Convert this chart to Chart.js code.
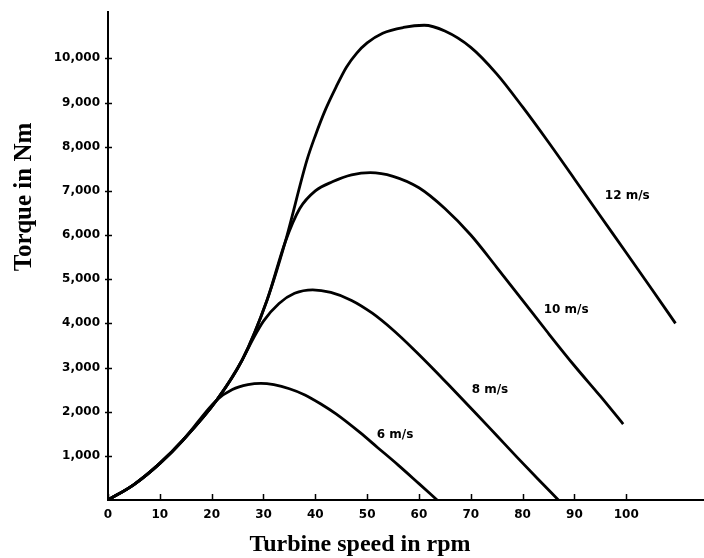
<!DOCTYPE html>
<html>
<head>
<meta charset="utf-8">
<title>Torque vs turbine speed</title>
<script src="https://cdn.jsdelivr.net/npm/chart.js@4.4.1/dist/chart.umd.min.js"></script>
<style>
  html, body { margin: 0; padding: 0; background: #fff; }
  #wrap { width: 704px; height: 558px; }
</style>
</head>
<body>
<div id="wrap"><canvas id="torqueChart" width="704" height="558"></canvas></div>
<script>
// Turbine speed (rpm) and torque (Nm), one pair per wind speed
const rpm6 = [0, 5, 10, 14.5, 21, 24, 27, 29.5, 32, 35, 38, 41, 44, 48.6, 52, 56, 60, 63.5];
const torque6 = [0, 350, 830, 1360, 2265, 2500, 2610, 2640, 2610, 2520, 2380, 2180, 1950, 1530, 1190, 790, 370, 0];

const rpm8 = [0, 5, 10, 14.5, 21, 25.9, 28, 30, 33, 36, 39.5, 43, 47, 51, 55, 59, 63, 67, 71, 75, 79, 83, 86.9];
const torque8 = [0, 350, 830, 1360, 2265, 3171, 3650, 4050, 4450, 4680, 4760, 4700, 4520, 4230, 3850, 3410, 2940, 2450, 1960, 1460, 960, 470, 0];

const rpm10 = [0, 5, 10, 14.5, 21, 25.9, 30.7, 34.2, 37, 40, 43.4, 47, 50.6, 55, 60, 65, 70, 75, 80, 85, 90, 95, 99.4];
const torque10 = [0, 350, 830, 1360, 2265, 3171, 4530, 5844, 6600, 7000, 7210, 7360, 7413, 7330, 7070, 6600, 6000, 5270, 4520, 3770, 3040, 2350, 1720];

const rpm12 = [0, 5, 10, 14.5, 21, 25.9, 30.7, 34.2, 38.4, 40, 42, 44, 46, 48, 50, 53, 57, 61, 65, 70, 75, 80, 85, 90, 95, 100, 105, 109.5];
const torque12 = [0, 350, 830, 1360, 2265, 3171, 4530, 5844, 7701, 8250, 8850, 9350, 9800, 10120, 10350, 10570, 10700, 10750, 10620, 10250, 9650, 8900, 8100, 7270, 6430, 5600, 4760, 4000];

const seriesNames = ['6 m/s', '8 m/s', '10 m/s', '12 m/s'];
const xTickValues = [0, 10, 20, 30, 40, 50, 60, 70, 80, 90, 100];
const yTickValues = [1000, 2000, 3000, 4000, 5000, 6000, 7000, 8000, 9000, 10000];

function toPoints(xs, ys) {
    return xs.map((x, i) => ({ x: x, y: ys[i] }));
}

const tickFont = { family: '"DejaVu Sans"', size: 12, weight: 'bold' };

// tick marks, curve labels and axis titles drawn over the chart
const decorations = {
    id: 'decorations',
    afterDraw(chart) {
        const { ctx, chartArea } = chart;
        const x = chart.scales.x;
        const y = chart.scales.y;
        ctx.save();
        ctx.strokeStyle = '#000';
        ctx.lineWidth = 1.5;
        ctx.beginPath();
        yTickValues.forEach(v => {
            const py = Math.round(y.getPixelForValue(v)) + 0.5;
            ctx.moveTo(chartArea.left - 3, py);
            ctx.lineTo(chartArea.left + 4, py);
        });
        xTickValues.forEach(v => {
            const px = Math.round(x.getPixelForValue(v)) + 0.5;
            ctx.moveTo(px, chartArea.bottom);
            ctx.lineTo(px, chartArea.bottom - 6);
        });
        ctx.stroke();

        // labels next to each curve (data coordinates)
        const labelAnchors = [[55.4, 1472], [73.7, 2492], [88.4, 4303], [100.2, 6880]];
        ctx.fillStyle = '#000';
        ctx.font = 'bold 12px "DejaVu Sans"';
        ctx.textAlign = 'center';
        ctx.textBaseline = 'middle';
        seriesNames.forEach((name, i) => {
            ctx.fillText(name, x.getPixelForValue(labelAnchors[i][0]), y.getPixelForValue(labelAnchors[i][1]));
        });

        ctx.font = 'bold 24px "Liberation Serif"';
        ctx.fillText('Turbine speed in rpm', 360, 545);
        ctx.font = 'bold 25px "Liberation Serif"';
        ctx.translate(25, 197);
        ctx.rotate(-Math.PI / 2);
        ctx.fillText('Torque in Nm', 0, 0);
        ctx.restore();
    }
};

const ctx = document.getElementById('torqueChart').getContext('2d');

new Chart(ctx, {
    type: 'line',
    data: {
        datasets: [
            { label: seriesNames[0], data: toPoints(rpm6, torque6) },
            { label: seriesNames[1], data: toPoints(rpm8, torque8) },
            { label: seriesNames[2], data: toPoints(rpm10, torque10) },
            { label: seriesNames[3], data: toPoints(rpm12, torque12) }
        ]
    },
    options: {
        responsive: false,
        animation: false,
        layout: { padding: { top: 12, left: 0, right: 0, bottom: 0 } },
        elements: {
            line: { borderColor: '#000', borderWidth: 2.8, cubicInterpolationMode: 'monotone', fill: false },
            point: { radius: 0, hoverRadius: 0 }
        },
        plugins: {
            legend: { display: false },
            tooltip: { enabled: false }
        },
        scales: {
            x: {
                type: 'linear',
                min: 0,
                max: 115,
                afterBuildTicks: scale => { scale.ticks = xTickValues.map(v => ({ value: v })); },
                afterFit: scale => { scale.height = 58; },
                grid: { display: false },
                border: { display: true, color: '#000', width: 2 },
                ticks: { color: '#000', font: tickFont, padding: 0, maxRotation: 0, autoSkip: false }
            },
            y: {
                type: 'linear',
                min: 0,
                max: 11050,
                afterBuildTicks: scale => { scale.ticks = yTickValues.map(v => ({ value: v })); },
                afterFit: scale => { scale.width = 108; },
                grid: { display: false },
                border: { display: true, color: '#000', width: 2 },
                ticks: {
                    color: '#000',
                    font: tickFont,
                    padding: 0,
                    autoSkip: false,
                    callback: v => v.toLocaleString('en-US')
                }
            }
        }
    },
    plugins: [decorations]
});
</script>
</body>
</html>
